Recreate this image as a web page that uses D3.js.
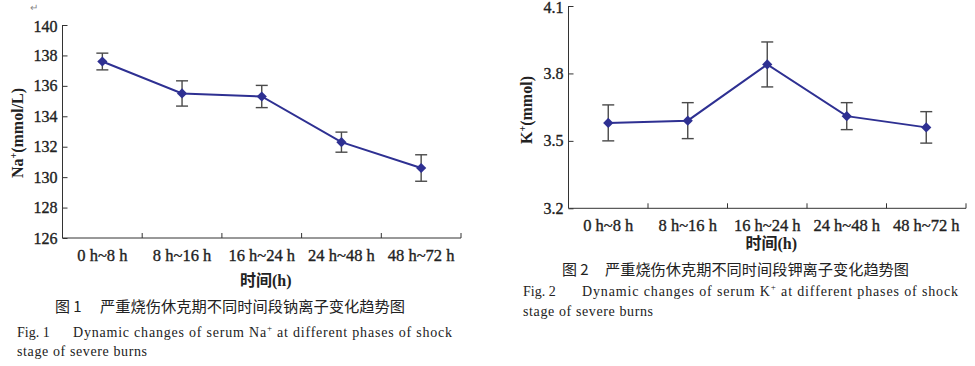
<!DOCTYPE html>
<html><head><meta charset="utf-8">
<script src="https://cdn.jsdelivr.net/npm/d3@7"></script>
<style>body{margin:0;background:#fff}svg{display:block}</style>
</head><body>
<svg id="c" width="975" height="366"></svg>
<script>
const categories = ["0 h~8 h","8 h~16 h","16 h~24 h","24 h~48 h","48 h~72 h"];
const naMean = [137.6, 135.5, 135.3, 132.3, 130.6];
const naSD   = [0.55, 0.83, 0.73, 0.66, 0.87];
const kMean  = [3.58, 3.59, 3.84, 3.61, 3.56];
const kSD    = [0.08, 0.08, 0.10, 0.06, 0.07];
const naTicks = [126,128,130,132,134,136,138,140];
const kTicks  = [3.2,3.5,3.8,4.1];

const svg = d3.select("#c");
const lineColor = "#2e3092", errColor = "#4a4a4a", axisColor = "#333";
const serif = "'Liberation Serif','Times New Roman',serif";
const cjk = "'Noto Sans CJK SC',sans-serif";

function chart(opt){
  const x = d3.scaleBand().domain(categories).range(opt.xr).padding(0);
  const y = d3.scaleLinear().domain(opt.dom).range(opt.yr);
  const g = svg.append("g");
  // y axis
  const ya = g.append("g").attr("transform",`translate(${opt.xr[0]},0)`)
    .call(d3.axisLeft(y).tickValues(opt.ticks).tickSize(-5).tickPadding(5).tickFormat(opt.fmt));
  ya.select(".domain").attr("stroke",axisColor).attr("d",`M0,${opt.yr[1]}V${opt.yr[0]}`);
  ya.selectAll(".tick line").attr("stroke",axisColor);
  ya.selectAll(".tick text").attr("font-family",serif).attr("font-size",16).attr("fill","#222")
    .attr("stroke","#222").attr("stroke-width",0.35)
    .attr("dy",d=>d===opt.dom[1] ? "0.42em" : "0.32em");
  // x axis
  const xa = g.append("g").attr("transform",`translate(0,${opt.yr[0]})`);
  xa.append("line").attr("x1",opt.xr[0]).attr("x2",opt.xr[1]).attr("stroke",axisColor);
  xa.selectAll("line.t").data(categories).join("line").attr("class","t")
    .attr("x1",d=>x(d)+x.bandwidth()).attr("x2",d=>x(d)+x.bandwidth())
    .attr("y1",0).attr("y2",-5).attr("stroke",axisColor);
  xa.selectAll("text").data(categories).join("text")
    .attr("x",d=>x(d)+x.bandwidth()/2).attr("y",22.5).attr("text-anchor","middle")
    .attr("font-family",serif).attr("font-size",16.5).attr("fill","#222")
    .attr("stroke","#222").attr("stroke-width",0.35)
    .text(d=>d);
  // x title
  g.append("text").attr("x",(opt.xr[0]+opt.xr[1])/2 + 4).attr("y",opt.yr[0]+opt.xtitleDy)
    .attr("text-anchor","middle").attr("font-family",serif+","+cjk).attr("font-size",16)
    .attr("font-weight","bold").attr("fill","#222").text("时间(h)");
  // y title
  const yt = g.append("text").attr("transform",`translate(${opt.ytX},${opt.ytY}) rotate(-90)`)
    .attr("text-anchor","middle").attr("font-family",serif).attr("font-size",16)
    .attr("font-weight","bold").attr("fill","#222");
  yt.append("tspan").text(opt.ion);
  yt.append("tspan").attr("font-size",10).attr("dy",-6).text("+");
  yt.append("tspan").attr("dy",6).text(opt.unit);
  // data
  const pts = categories.map((c,i)=>({c, m:opt.mean[i], s:opt.sd[i]}));
  const cx = d=>x(d.c)+x.bandwidth()/2;
  // error bars
  const eb = g.append("g").attr("stroke",errColor).attr("stroke-width",1.4);
  eb.selectAll("line.v").data(pts).join("line").attr("class","v")
    .attr("x1",cx).attr("x2",cx).attr("y1",d=>y(d.m+d.s)).attr("y2",d=>y(d.m-d.s));
  eb.selectAll("line.h1").data(pts).join("line").attr("class","h1")
    .attr("x1",d=>cx(d)-6).attr("x2",d=>cx(d)+6).attr("y1",d=>y(d.m+d.s)).attr("y2",d=>y(d.m+d.s));
  eb.selectAll("line.h2").data(pts).join("line").attr("class","h2")
    .attr("x1",d=>cx(d)-6).attr("x2",d=>cx(d)+6).attr("y1",d=>y(d.m-d.s)).attr("y2",d=>y(d.m-d.s));
  // line
  g.append("path").datum(pts).attr("fill","none").attr("stroke",lineColor).attr("stroke-width",2)
    .attr("d",d3.line().x(cx).y(d=>y(d.m)));
  g.selectAll("path.mk").data(pts).join("path").attr("class","mk")
    .attr("d",d3.symbol(d3.symbolSquare,52)())
    .attr("transform",d=>`translate(${cx(d)},${y(d.m)}) rotate(45)`)
    .attr("fill",lineColor);
  // captions
  const cap = opt.cap;
  svg.append("text").attr("x",cap.figX).attr("y",cap.cnY).attr("font-family",cjk).attr("font-size",15)
    .attr("fill","#222").text("图 "+cap.n);
  svg.append("text").attr("x",cap.cnX).attr("y",cap.cnY).attr("font-family",cjk).attr("font-size",15)
    .attr("fill","#222").attr("textLength",cap.cnW).attr("lengthAdjust","spacingAndGlyphs").text(cap.cn);
  svg.append("text").attr("x",cap.enX).attr("y",cap.enY).attr("font-family",serif).attr("font-size",14)
    .attr("fill","#222").text("Fig.  "+cap.n);
  const e1 = svg.append("text").attr("x",cap.en1X).attr("y",cap.enY).attr("font-family",serif).attr("font-size",14)
    .attr("fill","#222").attr("textLength",cap.en1W).attr("lengthAdjust","spacing");
  e1.append("tspan").text("Dynamic changes of serum "+opt.ion);
  e1.append("tspan").attr("font-size",9).attr("dy",-6).text("+");
  e1.append("tspan").attr("dy",6).text(" at different phases of shock");
  svg.append("text").attr("x",cap.enX).attr("y",cap.en2Y).attr("font-family",serif).attr("font-size",14)
    .attr("fill","#222").attr("textLength",cap.en2W).attr("lengthAdjust","spacing").text("stage of severe burns");
}

chart({xr:[62.5,461], yr:[238,25], dom:[126,140], ticks:naTicks, fmt:d3.format("d"),
  mean:naMean, sd:naSD, ion:"Na", unit:"(mmol/L)", ytX:23, ytY:133, xtitleDy:48,
  cap:{n:"1", figX:55, cnX:100, cnW:305, cnY:312, cn:"严重烧伤休克期不同时间段钠离子变化趋势图",
       enX:17, en1X:73, en1W:379, enY:337, en2Y:356, en2W:130}});
chart({xr:[568.5,966], yr:[208.3,6], dom:[3.2,4.1], ticks:kTicks, fmt:d3.format(".1f"),
  mean:kMean, sd:kSD, ion:"K", unit:"(mmol)", ytX:532, ytY:110, xtitleDy:41,
  cap:{n:"2", figX:562, cnX:605, cnW:304, cnY:275, cn:"严重烧伤休克期不同时间段钾离子变化趋势图",
       enX:523, en1X:582, en1W:376, enY:296, en2Y:316, en2W:130}});

svg.append("text").attr("x",30).attr("y",11).attr("font-family",serif).attr("font-size",10)
  .attr("fill","#888").text("↵");
</script>
</body></html>
